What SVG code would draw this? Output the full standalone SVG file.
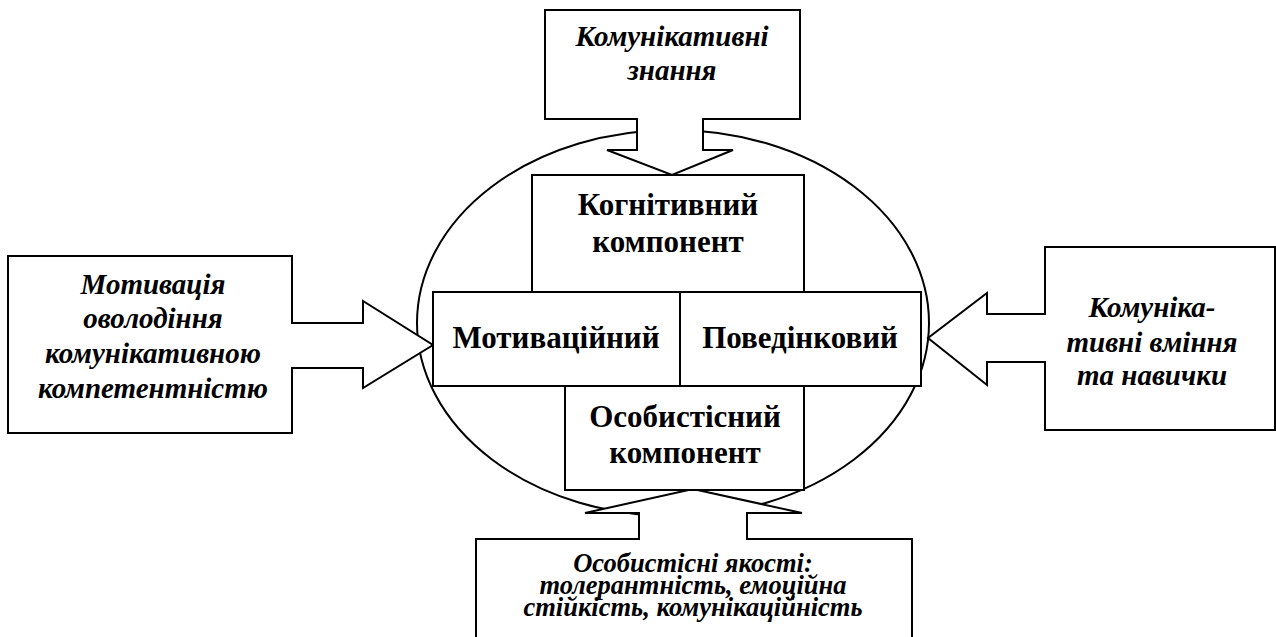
<svg xmlns="http://www.w3.org/2000/svg" width="1276" height="637" viewBox="0 0 1276 637">
<style>
.sh{fill:#fff;stroke:#000;stroke-width:2;stroke-linejoin:miter}
.ell{fill:none;stroke:#000;stroke-width:2}
.b{font-family:'Liberation Serif','Times New Roman','DejaVu Serif',serif;font-weight:bold;font-size:31px;text-anchor:middle;fill:#000}
.i{font-family:'Liberation Serif','Times New Roman','DejaVu Serif',serif;font-weight:bold;font-style:italic;font-size:29px;text-anchor:middle;fill:#000}
.q{font-size:26.5px}
</style>
<rect width="1276" height="637" fill="#fff"/>
<g id="ellipse"><ellipse class="ell" cx="673" cy="323" rx="256" ry="193"/></g>
<g id="connectors">
<polygon id="top-callout" class="sh" points="545,10 800,10 800,119 703,119 703,150 733,150 672,175 607,150 637,150 637,119 545,119"/>
<polygon id="left-callout" class="sh" points="8,256 292,256 292,323 363,323 363,301 433,345 363,388 363,368 292,368 292,433 8,433"/>
<polygon id="right-callout" class="sh" points="1275,247 1045,247 1045,314 987,314 987,293 928,338 987,385 987,362 1045,362 1045,430 1275,430"/>
<polygon id="bottom-callout" class="sh" points="476,645 476,539 639,539 639,513 585,513 693,489 802,513 747,513 747,539 912,539 912,645"/>
</g>
<g id="n-knowledge">
<text class="i" x="672" y="46">Комунікативні</text>
<text class="i" x="672" y="80">знання</text>
</g>
<g id="n-motivation">
<text class="i" x="153" y="294">Мотивація</text>
<text class="i" x="153" y="328">оволодіння</text>
<text class="i" x="153" y="363">комунікативною</text>
<text class="i" x="153" y="398">компетентністю</text>
</g>
<g id="n-skills">
<text class="i" x="1152" y="317">Комуніка-</text>
<text class="i" x="1152" y="352">тивні вміння</text>
<text class="i" x="1152" y="385">та навички</text>
</g>
<g id="n-qualities">
<text class="i q" x="693" y="572">Особистісні якості:</text>
<text class="i q" x="693" y="594">толерантність, емоційна</text>
<text class="i q" x="693" y="616">стійкість, комунікаційність</text>
</g>
<g id="n-cognitive">
<rect class="sh" x="532" y="175" width="272" height="117"/>
<text class="b" x="668" y="215">Когнітивний</text>
<text class="b" x="668" y="252">компонент</text>
</g>
<g id="n-motivational">
<rect class="sh" x="433" y="292" width="247" height="94"/>
<text class="b" x="556" y="348">Мотиваційний</text>
</g>
<g id="n-behavioral">
<rect class="sh" x="680" y="292" width="241" height="94"/>
<text class="b" x="800" y="348">Поведінковий</text>
</g>
<g id="n-personal">
<rect class="sh" x="565" y="386" width="239" height="104"/>
<text class="b" x="685" y="427">Особистісний</text>
<text class="b" x="685" y="463">компонент</text>
</g>
</svg>
